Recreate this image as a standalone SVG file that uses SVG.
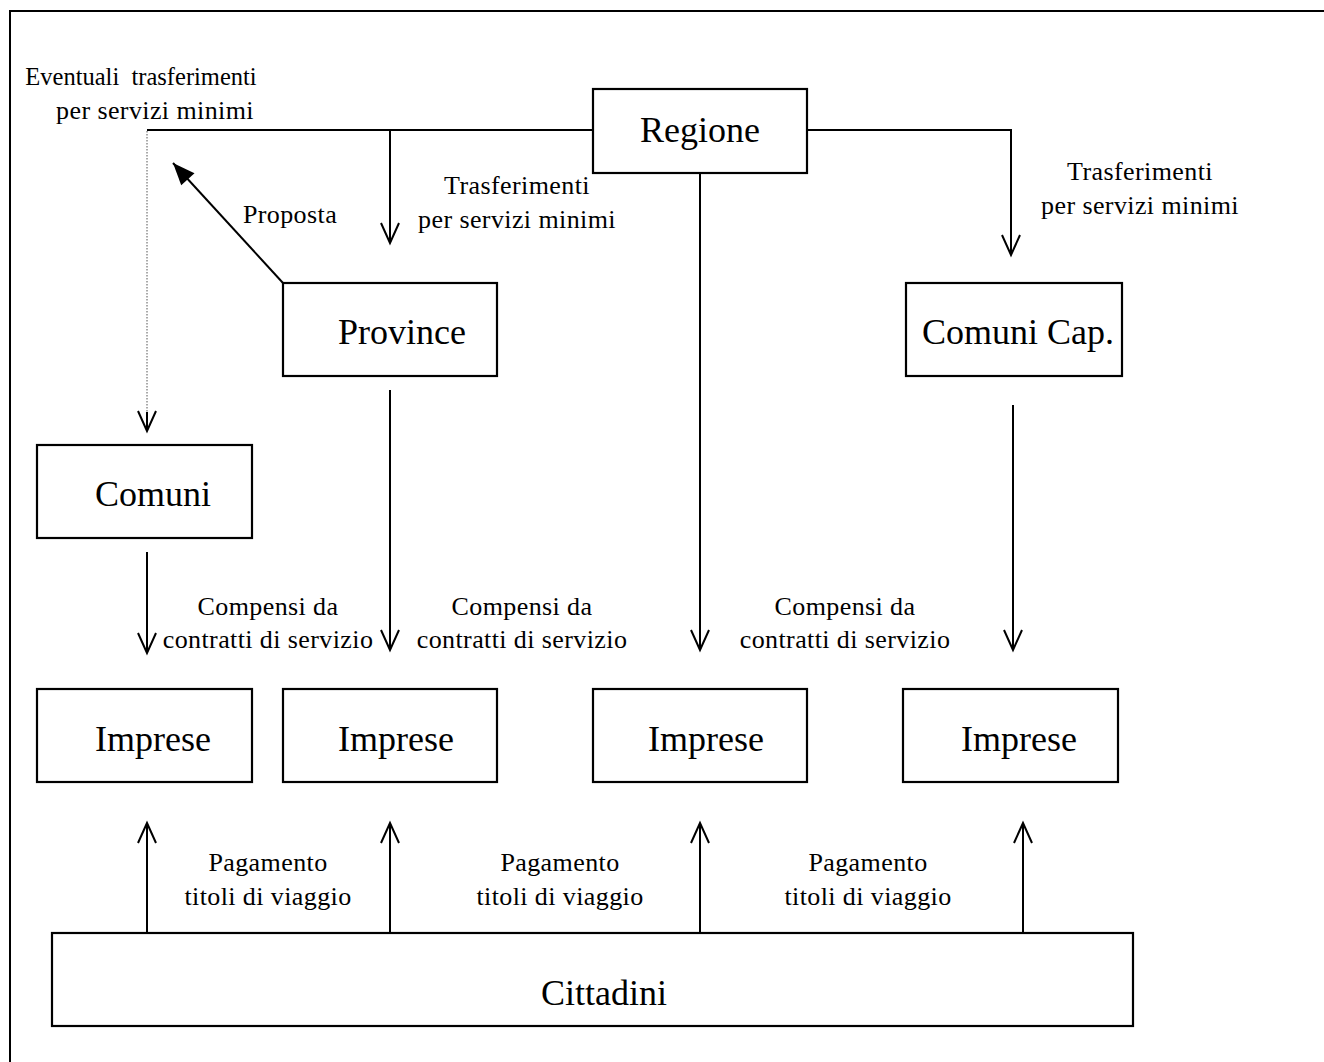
<svg xmlns="http://www.w3.org/2000/svg" width="1324" height="1062" viewBox="0 0 1324 1062">
<style>
.box{fill:#fff;stroke:#000;stroke-width:2.2}
.ln{fill:none;stroke:#000;stroke-width:2}
.dot{fill:none;stroke:#555;stroke-width:1;stroke-dasharray:1.5 1.5}
.nt{font-family:"Liberation Serif","Times New Roman",serif;font-size:36px;text-anchor:middle;fill:#000}
.lb{font-family:"Liberation Serif","Times New Roman",serif;font-size:26px;letter-spacing:0.4px;text-anchor:middle;fill:#000}
</style>
<defs>
<marker id="v" markerUnits="userSpaceOnUse" markerWidth="30" markerHeight="30" viewBox="-25 -15 30 30" refX="0" refY="0" orient="auto">
<path d="M-20,-9 L0,0 L-20,9" fill="none" stroke="#000" stroke-width="2"/>
</marker>
<marker id="solid" markerUnits="userSpaceOnUse" markerWidth="30" markerHeight="30" viewBox="-25 -15 30 30" refX="0" refY="0" orient="auto">
<path d="M-22,-9 L0,0 L-22,9 Z" fill="#000"/>
</marker>
</defs>
<rect width="1324" height="1062" fill="#fff"/>
<path class="ln" d="M10,1062 V11 H1324" stroke-width="2.5"/>

<g id="connectors">
<path class="ln" d="M593,130 H147"/>
<path class="dot" d="M147,131 V430"/>
<path class="ln" d="M147,412 L147,431" marker-end="url(#v)"/>
<path class="ln" d="M390,130 V243" marker-end="url(#v)"/>
<path class="ln" d="M807,130 H1011 V255" marker-end="url(#v)"/>
<path class="ln" d="M700,173 V650" marker-end="url(#v)"/>
<path class="ln" d="M283,283 L173,163" marker-end="url(#solid)"/>
<path class="ln" d="M147,552 V653" marker-end="url(#v)"/>
<path class="ln" d="M390,390 V650" marker-end="url(#v)"/>
<path class="ln" d="M1013,405 V650" marker-end="url(#v)"/>
<path class="ln" d="M147,933 V823" marker-end="url(#v)"/>
<path class="ln" d="M390,933 V823" marker-end="url(#v)"/>
<path class="ln" d="M700,933 V823" marker-end="url(#v)"/>
<path class="ln" d="M1023,933 V823" marker-end="url(#v)"/>
<text class="lb" x="141" y="85" style="font-size:24.5px;letter-spacing:0" xml:space="preserve">Eventuali  trasferimenti</text>
<text class="lb" x="155" y="119">per servizi minimi</text>
<text class="lb" x="290" y="223">Proposta</text>
<text class="lb" x="517" y="194">Trasferimenti</text>
<text class="lb" x="517" y="228">per servizi minimi</text>
<text class="lb" x="1140" y="180">Trasferimenti</text>
<text class="lb" x="1140" y="214">per servizi minimi</text>
<text class="lb" x="268" y="615">Compensi da</text>
<text class="lb" x="268" y="648">contratti di servizio</text>
<text class="lb" x="522" y="615">Compensi da</text>
<text class="lb" x="522" y="648">contratti di servizio</text>
<text class="lb" x="845" y="615">Compensi da</text>
<text class="lb" x="845" y="648">contratti di servizio</text>
<text class="lb" x="268" y="871">Pagamento</text>
<text class="lb" x="268" y="905">titoli di viaggio</text>
<text class="lb" x="560" y="871">Pagamento</text>
<text class="lb" x="560" y="905">titoli di viaggio</text>
<text class="lb" x="868" y="871">Pagamento</text>
<text class="lb" x="868" y="905">titoli di viaggio</text>
</g>

<g id="regione"><rect class="box" x="593" y="89" width="214" height="84"/><text class="nt" x="700" y="142">Regione</text></g>
<g id="province"><rect class="box" x="283" y="283" width="214" height="93"/><text class="nt" x="402" y="344">Province</text></g>
<g id="comuni-cap"><rect class="box" x="906" y="283" width="216" height="93"/><text class="nt" x="1018" y="344">Comuni Cap.</text></g>
<g id="comuni"><rect class="box" x="37" y="445" width="215" height="93"/><text class="nt" x="153" y="506">Comuni</text></g>
<g id="imprese1"><rect class="box" x="37" y="689" width="215" height="93"/><text class="nt" x="153" y="751">Imprese</text></g>
<g id="imprese2"><rect class="box" x="283" y="689" width="214" height="93"/><text class="nt" x="396" y="751">Imprese</text></g>
<g id="imprese3"><rect class="box" x="593" y="689" width="214" height="93"/><text class="nt" x="706" y="751">Imprese</text></g>
<g id="imprese4"><rect class="box" x="903" y="689" width="215" height="93"/><text class="nt" x="1019" y="751">Imprese</text></g>
<g id="cittadini"><rect class="box" x="52" y="933" width="1081" height="93"/><text class="nt" x="604" y="1005">Cittadini</text></g>
</svg>
